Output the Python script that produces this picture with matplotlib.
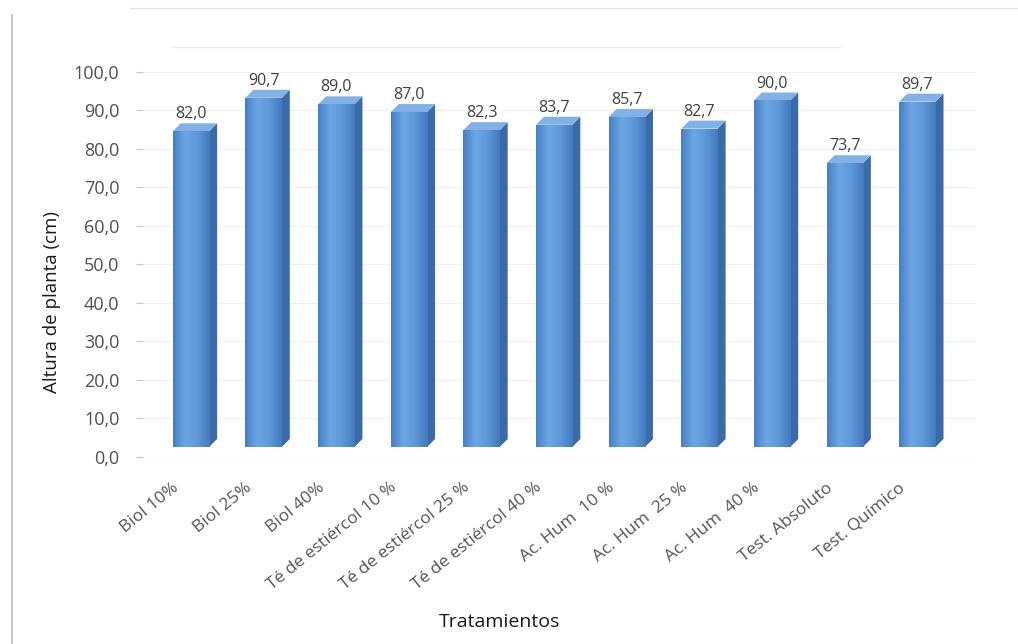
import numpy as np
import matplotlib
matplotlib.use("Agg")
import matplotlib.pyplot as plt
import matplotlib.transforms as mtransforms
from matplotlib.colors import LinearSegmentedColormap
from matplotlib.patches import Polygon

tratamientos = ["Biol 10%", "Biol 25%", "Biol 40%", "Té de estiércol 10 %",
                "Té de estiércol 25 %", "Té de estiércol 40 %", "Ac. Hum  10 %",
                "Ac. Hum  25 %", "Ac. Hum  40 %", "Test. Absoluto", "Test. Químico"]
altura = [82.0, 90.7, 89.0, 87.0, 82.3, 83.7, 85.7, 82.7, 90.0, 73.7, 89.7]
yticks = np.arange(0, 101, 10)

plt.rcParams['font.family'] = ['Open Sans', 'DejaVu Sans']

fig = plt.figure(figsize=(10.18, 6.44), dpi=100)
ax = fig.add_axes([0.1405, 0.2904, 0.817, 0.5978])
ax.set_xlim(-0.66, 10.79)
ax.set_ylim(0, 100)

x = np.arange(len(altura))
ancho = 0.5
prof = (8, 8)  # profundidad de la columna en pixeles

# la cara frontal se levanta un poco sobre el piso
frente = mtransforms.offset_copy(ax.transData, fig=fig, x=0, y=10, units='dots')
degradado = LinearSegmentedColormap.from_list(
    'azul', ['#4580c8', '#6ca6e3', '#5f98d8', '#4479bf'])
ident = mtransforms.IdentityTransform()

for xi, h in zip(x, altura):
    x0, x1 = xi - ancho / 2, xi + ancho / 2
    (ax0, ay0), (ax1, ay1) = frente.transform([(x0, 0), (x1, h)])
    dx, dy = prof
    # cara lateral
    lateral = Polygon([(ax1, ay0), (ax1 + dx, ay0 + dy), (ax1 + dx, ay1 + dy),
                       (ax1, ay1)], closed=True, transform=ident,
                      facecolor='#3a6aa8', edgecolor='none', zorder=2)
    ax.add_patch(lateral)
    # cara superior
    techo = Polygon([(ax0, ay1), (ax0 + dx, ay1 + dy), (ax1 + dx, ay1 + dy),
                     (ax1, ay1)], closed=True, transform=ident,
                    facecolor='#80b2e6', edgecolor='none', zorder=2)
    ax.add_patch(techo)
    # cara frontal con degradado horizontal
    grad = np.linspace(0, 1, 64).reshape(1, -1)
    img = ax.imshow(grad, cmap=degradado, aspect='auto',
                    extent=(x0, x1, 0, h), transform=frente, zorder=3)
    caja = ax.bar(xi, h, width=ancho, color='none', transform=frente, zorder=3)[0]
    img.set_clip_path(caja)
    ax.text(xi, h + 2.3, f"{h:.1f}".replace('.', ','), ha='center',
            va='bottom', fontsize=11.5, color='#404040', transform=frente,
            zorder=5)

ax.set_yticks(yticks)
ax.set_yticklabels([f"{v:.1f}".replace('.', ',') for v in yticks],
                   fontsize=13, color='#505050')
ax.set_xticks(x)
ax.set_xticklabels([])
ax.tick_params(axis='y', length=5, color='#c8c8c8', pad=12)
ax.tick_params(axis='x', length=0)

# etiquetas de categoria inclinadas, corridas a la izquierda de cada columna
pos_etiqueta = mtransforms.offset_copy(ax.get_xaxis_transform(), fig=fig,
                                       x=-14, y=-29, units='dots')
for xi, nombre in zip(x, tratamientos):
    ax.text(xi, 0, nombre, rotation=39, ha='right', va='center',
            rotation_mode='anchor', fontsize=12.5, color='#555555',
            transform=pos_etiqueta, clip_on=False)

ax.grid(axis='y', color='#f0f0f0', lw=0.8, zorder=0)
for s in ax.spines.values():
    s.set_visible(False)
ax.axhline(0, color='#e6e6e6', lw=1, zorder=1)

fig.text(52 / 1018, 1 - 302 / 644, "Altura de planta (cm)", rotation=90,
         ha='center', va='center', fontsize=13.5, color='#1a1a1a')
fig.text(500 / 1018, 1 - 622 / 644, "Tratamientos", ha='center', va='center',
         fontsize=14, color='#1a1a1a')

# borde del área del gráfico
fig.add_artist(plt.Line2D([12 / 1018, 12 / 1018], [0.0, 1 - 15 / 644],
                          color='#c4c4c4', lw=1.3, transform=fig.transFigure))
fig.add_artist(plt.Line2D([130 / 1018, 1.0], [1 - 8 / 644, 1 - 8 / 644],
                          color='#e2e2e2', lw=1.0, transform=fig.transFigure))
fig.add_artist(plt.Line2D([172 / 1018, 840 / 1018], [1 - 47 / 644, 1 - 47 / 644],
                          color='#ececec', lw=1.0, transform=fig.transFigure))

fig.savefig("out.png", dpi=100)
